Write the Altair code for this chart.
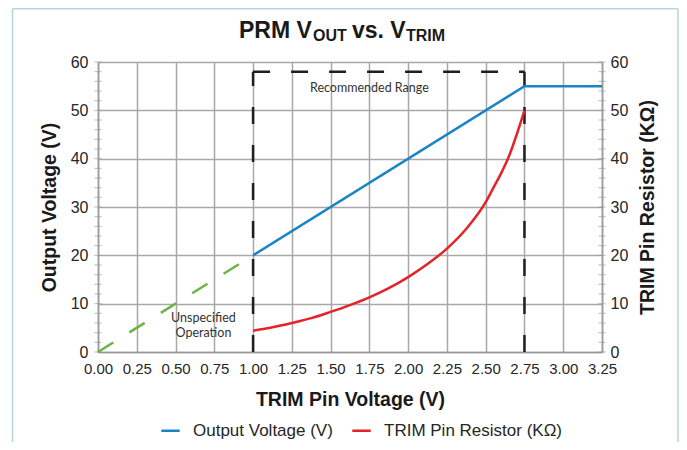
import altair as alt
import pandas as pd

# ---------------- data ----------------
series_names = ["Output Voltage (V)", "TRIM Pin Resistor (KΩ)"]
series_colors = ["#1a84c6", "#e42328"]

# Output voltage (specified range + clamp)
vout_trim = [1.00, 2.75, 3.25]
vout_volts = [20, 55, 55]

# Unspecified operation (green dashed)
unspec_trim = [0.00, 1.00]
unspec_volts = [0, 20]

# TRIM pin resistor curve
res_trim = [1.00, 1.125, 1.25, 1.375, 1.50, 1.625, 1.75, 1.875, 2.00,
            2.125, 2.25, 2.375, 2.50, 2.55, 2.60, 2.65, 2.70, 2.75]
res_kohm = [4.4, 5.1, 6.0, 7.0, 8.3, 9.7, 11.3, 13.2, 15.5,
            18.2, 21.4, 25.5, 31.0, 34.0, 37.0, 40.5, 45.0, 50.0]

# Recommended range box
range_lo, range_hi, range_top = 1.00, 2.75, 58

# Axis ticks
x_ticks = [0.00, 0.25, 0.50, 0.75, 1.00, 1.25, 1.50, 1.75, 2.00,
           2.25, 2.50, 2.75, 3.00, 3.25]
y_ticks = [0, 10, 20, 30, 40, 50, 60]
y_minor = list(range(0, 61, 2))

# Annotations
notes_text = ["Recommended Range", "Unspecified", "Operation"]
notes_x = [1.75, 0.68, 0.68]
notes_y = [54.7, 7.0, 4.0]

# ---------------- tables ----------------
df_vout = pd.DataFrame({"x": vout_trim, "y": vout_volts, "series": series_names[0]})
df_res = pd.DataFrame({"x": res_trim, "y": res_kohm, "series": series_names[1]})
df_unspec = pd.DataFrame({"x": unspec_trim, "y": unspec_volts})
df_box = pd.DataFrame({
    "x": [range_lo, range_hi, range_lo],
    "x2": [range_lo, range_hi, range_hi],
    "y": [0, 0, range_top],
    "y2": [range_top, range_top, range_top],
})
df_notes = pd.DataFrame({"x": notes_x, "y": notes_y, "t": notes_text})
df_minor = pd.DataFrame({"y": y_minor})
one = pd.DataFrame({"k": [0]})

W, H = 504, 290
FONT = "Liberation Sans"
GRID = "#a8a8a8"
LBL = "#262626"
TTL = 19.5

xscale = alt.Scale(domain=[0, 3.25], nice=False, zero=False)
yscale = alt.Scale(domain=[0, 60], nice=False)

xaxis = alt.Axis(values=x_ticks, format=".2f", title="TRIM Pin Voltage (V)",
                 grid=True, gridColor=GRID, gridWidth=1.5, ticks=False,
                 domainColor="#999999", domainWidth=1.5,
                 labelFont=FONT, labelFontSize=15, labelColor=LBL, labelPadding=9,
                 labelFlush=False, labelOverlap=False,
                 titleFont=FONT, titleFontSize=TTL, titleFontWeight="bold",
                 titleColor="#1a1a1a", titlePadding=14)
yaxis_l = alt.Axis(values=y_ticks, title="Output Voltage (V)", orient="left",
                   grid=True, gridColor=GRID, gridWidth=1.5, ticks=False,
                   domainColor="#999999", domainWidth=1.5,
                   labelFont=FONT, labelFontSize=16, labelColor=LBL, labelPadding=10,
                   labelFlush=False,
                   titleFont=FONT, titleFontSize=TTL, titleFontWeight="bold",
                   titleColor="#1a1a1a", titlePadding=11)
yaxis_r = alt.Axis(values=y_ticks, title="TRIM Pin Resistor (KΩ)", orient="right",
                   grid=False, ticks=False,
                   domainColor="#999999", domainWidth=1.5,
                   labelFont=FONT, labelFontSize=16, labelColor=LBL, labelPadding=8,
                   labelFlush=False,
                   titleFont=FONT, titleFontSize=TTL, titleFontWeight="bold",
                   titleColor="#1a1a1a", titlePadding=11, titleAngle=270,
                   titleBaseline="top")

X = alt.X("x:Q", scale=xscale, axis=xaxis)
YL = alt.Y("y:Q", scale=yscale, axis=yaxis_l)
YR = alt.Y("y:Q", scale=yscale, axis=yaxis_r)

color = alt.Color("series:N",
                  scale=alt.Scale(domain=series_names, range=series_colors),
                  legend=alt.Legend(title=None, orient="none", direction="horizontal",
                                    legendX=62, legendY=358,
                                    symbolType="stroke", symbolSize=340,
                                    symbolStrokeWidth=2.5, labelFont=FONT,
                                    labelFontSize=17, labelColor=LBL, labelLimit=0,
                                    labelOffset=12, columnPadding=14))

# ---------------- left-scale layers ----------------
vout_line = alt.Chart(df_vout).mark_line(strokeWidth=2.5).encode(x=X, y=YL, color=color)
unspec_line = alt.Chart(df_unspec).mark_line(strokeWidth=2.5, color="#6cb443",
                                             strokeDash=[18, 19]).encode(x=X, y=YL)
box = alt.Chart(df_box).mark_rule(strokeWidth=2.5, color="#1f1f1f",
                                  strokeDash=[17, 21]).encode(
    x=X, x2="x2:Q", y=YL, y2="y2:Q")
notes = alt.Chart(df_notes).mark_text(font="Lato", fontSize=12.5, color="#333333").encode(
    x=X, y=YL, text="t:N")
minor_l = alt.Chart(df_minor).mark_tick(orient="horizontal", size=7, thickness=1,
                                        color="#999999").encode(y=YL, x=alt.value(0))

# title made of pieces (subscripts)
def piece(txt, xpos, ypos, size):
    return alt.Chart(one).mark_text(text=txt, font=FONT, fontSize=size, fontWeight="bold",
                                    align="left", baseline="alphabetic",
                                    color="#1a1a1a").encode(x=alt.value(xpos), y=alt.value(ypos))

title = (piece("PRM V", 141, -24, 23) + piece("OUT", 215, -21, 16)
         + piece("vs. V", 254, -24, 23) + piece("TRIM", 308, -21, 16))

# frame
frame_df = pd.DataFrame({"k": [0]})
frame_l = alt.Chart(frame_df).mark_rule(color="#b9d3de", strokeWidth=1.5).encode(
    x=alt.value(-85.5), x2=alt.value(-85.5), y=alt.value(-53.2), y2=alt.value(380))
frame_t = alt.Chart(frame_df).mark_rule(color="#b9d3de", strokeWidth=1.5).encode(
    x=alt.value(-85.5), x2=alt.value(580), y=alt.value(-53.2), y2=alt.value(-53.2))
frame_r = alt.Chart(frame_df).mark_rule(color="#b9d3de", strokeWidth=1.5).encode(
    x=alt.value(580), x2=alt.value(580), y=alt.value(-53.2), y2=alt.value(380))

left = alt.layer(minor_l, unspec_line, box, vout_line, notes, title,
                 frame_l, frame_t, frame_r)

# ---------------- right-scale layers ----------------
res_line = alt.Chart(df_res).mark_line(strokeWidth=2.5, interpolate="monotone").encode(
    x=X, y=YR, color=color)
minor_r = alt.Chart(df_minor).mark_tick(orient="horizontal", size=7, thickness=1,
                                        color="#999999").encode(y=YR, x=alt.value(W))
right = alt.layer(minor_r, res_line)

chart = alt.layer(left, right).resolve_scale(y="independent").properties(
    width=W, height=H,
    autosize=alt.AutoSizeParams(type="none"),
    padding={"left": 90, "top": 54, "right": 77, "bottom": 90},
    background="white",
).configure_view(stroke=None)

chart.save("out.html", embed_options={"renderer": "svg", "actions": False})
